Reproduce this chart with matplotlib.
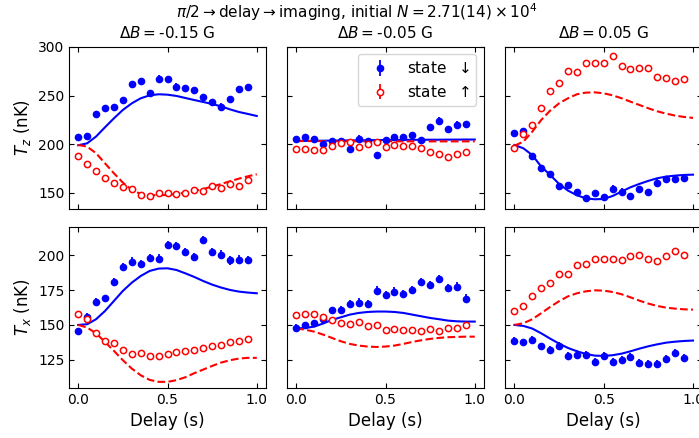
import matplotlib
matplotlib.use("Agg")
import matplotlib.pyplot as plt

# ---------------- data ----------------
delay = [0.00, 0.05, 0.10, 0.15, 0.20, 0.25, 0.30, 0.35, 0.40, 0.45,
         0.50, 0.55, 0.60, 0.65, 0.70, 0.75, 0.80, 0.85, 0.90, 0.95]
model_t = [0.00, 0.05, 0.10, 0.15, 0.20, 0.25, 0.30, 0.35, 0.40, 0.45, 0.50,
           0.55, 0.60, 0.65, 0.70, 0.75, 0.80, 0.85, 0.90, 0.95, 1.00]

panel_titles = [r"$\Delta B = $-0.15 G", r"$\Delta B = $-0.05 G", r"$\Delta B = $0.05 G"]

# T_z, dB = -0.15 G
tz_dn_a = [207.5, 208.6, 231.5, 237.0, 238.4, 245.6, 261.7, 264.7, 252.4, 267.5,
           267.1, 259.3, 257.5, 255.5, 249.0, 243.5, 238.7, 246.6, 256.9, 259.3]
tz_up_a = [188.0, 179.5, 172.6, 165.8, 160.3, 156.2, 154.1, 147.9, 147.3, 150.3,
           150.0, 149.0, 150.3, 152.7, 151.7, 156.8, 154.8, 158.9, 157.5, 163.7]
tz_dn_model_a = [199.0, 201.0, 208.0, 217.5, 226.7, 235.3, 242.1, 247.3, 250.3, 251.4, 251.0,
                 249.7, 247.6, 245.5, 243.5, 241.4, 239.0, 235.9, 233.2, 231.2, 229.1]
tz_up_model_a = [199.3, 197.6, 190.8, 180.5, 170.2, 160.6, 153.1, 149.0, 147.9, 147.6, 147.9,
                 149.0, 150.3, 152.1, 154.1, 156.5, 159.2, 162.0, 164.7, 167.1, 169.2]

# T_z, dB = -0.05 G
tz_dn_b = [205.8, 207.9, 205.1, 200.7, 203.8, 203.4, 194.9, 205.8, 203.8, 188.7,
           204.5, 207.2, 207.5, 209.2, 204.5, 217.8, 224.0, 215.4, 220.2, 220.5]
tz_up_b = [195.5, 194.9, 193.8, 194.5, 197.9, 201.4, 202.1, 197.6, 200.7, 202.7,
           196.9, 199.3, 198.6, 197.9, 196.2, 192.1, 189.7, 187.3, 190.4, 191.8]
tz_dn_model_b = [203.5, 203.5, 203.6, 203.7, 203.8, 203.9, 204.0, 204.1, 204.2, 204.3, 204.4,
                 204.5, 204.5, 204.6, 204.6, 204.7, 204.7, 204.8, 204.8, 204.9, 204.9]
tz_up_model_b = [203.3, 203.3, 203.3, 203.2, 203.2, 203.2, 203.2, 203.1, 203.1, 203.1, 203.1,
                 203.1, 203.0, 203.0, 203.0, 203.0, 203.0, 203.0, 203.0, 203.0, 203.0]

# T_z, dB = 0.05 G
tz_dn_c = [211.6, 214.0, 188.4, 175.7, 169.5, 156.8, 157.9, 151.0, 144.9, 149.7,
           145.5, 154.4, 151.4, 146.9, 153.8, 151.4, 159.9, 164.0, 164.0, 165.4]
tz_up_c = [195.9, 210.3, 219.9, 237.7, 254.5, 263.0, 275.4, 274.3, 283.6, 283.6,
           283.6, 291.1, 280.8, 277.1, 278.8, 278.4, 269.5, 267.8, 264.7, 267.1]
tz_dn_model_c = [199.3, 195.9, 188.9, 177.1, 168.5, 159.3, 152.4, 147.6, 144.5, 143.5, 143.8,
                 146.9, 151.4, 155.8, 159.3, 162.4, 165.1, 166.8, 167.8, 168.5, 168.8]
tz_up_model_c = [198.5, 202.7, 213.0, 225.0, 234.6, 242.1, 247.3, 251.4, 253.1, 253.4, 252.4,
                 250.3, 247.3, 243.8, 240.4, 237.0, 233.9, 231.5, 229.5, 228.1, 227.1]

# T_x, dB = -0.15 G
tx_dn_a = [145.5, 155.7, 166.5, 169.3, 181.0, 191.8, 195.4, 193.5, 197.8, 197.5,
           207.1, 206.6, 202.1, 198.7, 211.1, 202.1, 200.4, 196.3, 196.8, 196.6]
tx_up_a = [157.6, 154.3, 144.0, 138.3, 137.1, 131.9, 129.0, 129.9, 128.0, 128.0,
           129.0, 130.4, 131.1, 132.1, 133.3, 134.7, 135.9, 137.8, 138.5, 140.2]
tx_dn_model_a = [150.0, 150.5, 154.1, 160.0, 167.2, 174.4, 180.3, 185.1, 188.7, 190.4, 190.6,
                 189.4, 187.0, 184.4, 181.5, 178.9, 176.8, 175.1, 173.9, 173.2, 172.7]
tx_up_model_a = [150.0, 148.1, 144.0, 137.8, 131.4, 124.7, 118.7, 113.9, 110.6, 109.2, 109.2,
                 110.4, 112.5, 115.4, 118.0, 120.6, 123.0, 124.7, 125.9, 126.4, 126.4]

# T_x, dB = -0.05 G
tx_dn_b = [147.9, 149.8, 151.2, 154.1, 160.7, 161.0, 164.8, 166.0, 165.0, 174.6,
           171.5, 173.9, 172.0, 175.1, 180.6, 178.7, 183.0, 176.7, 177.5, 168.9]
tx_up_b = [157.2, 158.1, 157.6, 156.0, 153.3, 151.7, 151.0, 152.4, 149.0, 149.8,
           146.2, 147.4, 146.2, 146.7, 145.9, 147.4, 145.9, 148.1, 147.9, 149.8]
tx_dn_model_b = [147.5, 147.8, 148.8, 151.0, 153.6, 155.5, 157.4, 158.6, 159.3, 159.6, 159.6,
                 159.3, 158.6, 157.4, 156.2, 155.0, 154.1, 153.1, 152.6, 152.4, 152.4]
tx_up_model_b = [147.5, 146.6, 145.2, 143.1, 140.7, 138.3, 136.4, 135.2, 134.5, 134.2, 134.5,
                 135.2, 136.4, 137.8, 139.0, 140.0, 140.7, 141.2, 141.4, 141.6, 141.6]

# T_x, dB = 0.05 G
tx_dn_c = [138.8, 137.6, 139.5, 134.7, 132.1, 135.0, 127.6, 128.7, 128.3, 123.5,
           127.6, 123.5, 124.7, 127.1, 122.8, 121.8, 121.8, 125.4, 129.9, 126.1]
tx_up_c = [159.8, 163.9, 170.5, 176.7, 180.3, 186.3, 186.8, 193.0, 193.5, 197.5,
           197.3, 197.3, 196.6, 199.4, 199.9, 197.0, 196.1, 199.2, 203.3, 199.9]
tx_dn_model_c = [150.0, 149.3, 147.4, 144.0, 140.2, 136.6, 133.5, 131.1, 129.2, 128.0, 127.8,
                 128.3, 129.4, 131.1, 133.0, 134.7, 136.1, 137.3, 138.0, 138.5, 138.8]
tx_up_model_c = [150.0, 151.2, 154.1, 158.4, 162.9, 167.0, 170.5, 172.7, 174.1, 174.8, 174.6,
                 173.6, 172.0, 169.8, 167.4, 165.3, 163.6, 162.4, 161.7, 161.2, 161.0]

# error bars (nK)
err_tz_dn = [3.0, 3.0, 2.5, 2.5, 2.5, 3.0, 3.5, 3.5, 2.5, 3.5,
             3.0, 3.5, 3.5, 3.0, 3.0, 3.0, 4.0, 3.5, 3.5, 3.0]
err_tz_up = [2.0, 2.0, 2.0, 2.0, 2.0, 2.0, 2.0, 2.0, 2.0, 2.0,
             2.0, 2.0, 2.0, 2.0, 2.0, 2.0, 2.0, 2.0, 2.0, 2.0]
err_tx_dn = [2.5, 2.5, 2.5, 2.5, 2.5, 2.5, 3.0, 3.0, 3.0, 3.0,
             3.0, 3.0, 3.0, 3.0, 3.0, 3.0, 3.0, 3.0, 3.0, 3.0]
err_tx_up = [1.5, 1.5, 1.5, 1.5, 1.5, 1.5, 1.5, 1.5, 1.5, 1.5,
             1.5, 1.5, 1.5, 2.0, 2.0, 2.0, 2.0, 2.0, 2.0, 2.0]

y_ticks_z = [150, 200, 250, 300]
y_ticks_x = [125, 150, 175, 200]
x_ticks = [0.0, 0.5, 1.0]

# ---------------- figure ----------------
W, H = 699, 438
fig = plt.figure(figsize=(W / 100, H / 100), dpi=100)

lefts = [69.3, 287.3, 505.5]
aw = 196.4
rows = [(46.7, 209.0), (227.3, 387.7)]


def ax_rect(col, row):
    top, bot = rows[row]
    return [lefts[col] / W, (H - bot) / H, aw / W, (bot - top) / H]


rows_data = [
    [(tz_dn_a, tz_up_a, tz_dn_model_a, tz_up_model_a),
     (tz_dn_b, tz_up_b, tz_dn_model_b, tz_up_model_b),
     (tz_dn_c, tz_up_c, tz_dn_model_c, tz_up_model_c)],
    [(tx_dn_a, tx_up_a, tx_dn_model_a, tx_up_model_a),
     (tx_dn_b, tx_up_b, tx_dn_model_b, tx_up_model_b),
     (tx_dn_c, tx_up_c, tx_dn_model_c, tx_up_model_c)],
]
errs = [(err_tz_dn, err_tz_up), (err_tx_dn, err_tx_up)]
ylims = [(133.5, 300.3), (105, 220)]
yticks = [y_ticks_z, y_ticks_x]
ylabels = [r"$T_z$ (nK)", r"$T_x$ (nK)"]

for r in range(2):
    for c in range(3):
        ax = fig.add_axes(ax_rect(c, r))
        dn, up, mdn, mup = rows_data[r][c]
        edn, eup = errs[r]
        ax.plot(model_t, mdn, color="blue", lw=1.5, ls="-", zorder=2)
        ax.plot(model_t, mup, color="red", lw=1.5, ls="--", zorder=2)
        ax.errorbar(delay, dn, yerr=edn, fmt="o", color="blue", ms=4.5,
                    elinewidth=1.3, capsize=0, label=r"state  $\downarrow$", zorder=3)
        ax.errorbar(delay, up, yerr=eup, fmt="o", color="red", mfc="white",
                    mec="red", mew=1.1, ms=4.5, elinewidth=1.3, capsize=0,
                    label=r"state  $\uparrow$", zorder=3)
        ax.set_xlim(-0.05, 1.05)
        ax.set_ylim(*ylims[r])
        ax.set_xticks(x_ticks)
        ax.set_yticks(yticks[r])
        ax.tick_params(direction="in", top=True, right=True, labelsize=10)
        if r == 0:
            ax.set_title(panel_titles[c], fontsize=11)
            ax.tick_params(labelbottom=False)
        else:
            ax.set_xlabel("Delay (s)", fontsize=12)
        if c == 0:
            ax.set_ylabel(ylabels[r], fontsize=12)
        else:
            ax.tick_params(labelleft=False)
        if r == 0 and c == 1:
            ax.legend(loc="upper right", fontsize=11)

fig.text(357 / W, 1 - 12 / H,
         r"$\pi/2 \rightarrow$delay$\rightarrow$imaging, initial $N = 2.71(14) \times 10^4$",
         ha="center", va="center", fontsize=11)

fig.savefig("out.png", dpi=100)
